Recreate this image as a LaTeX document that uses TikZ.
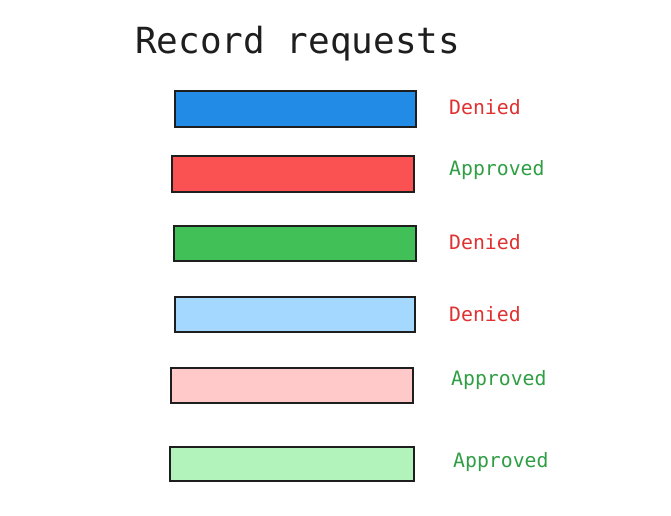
\documentclass[tikz,border=0pt]{standalone}
\usepackage{fontspec}
\setmainfont{DejaVu Sans Mono}
\definecolor{ink}{HTML}{1E1E1E}
\definecolor{redtxt}{HTML}{E03131}
\definecolor{greentxt}{HTML}{2F9E44}
\definecolor{cA}{HTML}{228BE6}
\definecolor{cB}{HTML}{FA5252}
\definecolor{cC}{HTML}{40C057}
\definecolor{cD}{HTML}{A5D8FF}
\definecolor{cE}{HTML}{FFC9C9}
\definecolor{cF}{HTML}{B2F2BB}
\begin{document}
\begin{tikzpicture}[x=1pt,y=-1pt,
  bar/.style={draw=ink,line width=1.1pt},
  lab/.style={anchor=west,font=\fontsize{19.8}{22}\selectfont,inner sep=0pt}]
\useasboundingbox (0,0) rectangle (671,515);
\node[anchor=west,inner sep=0pt,text=ink,font=\fontsize{36}{40}\selectfont] (title) at (135,44) {Record requests};
\path[bar,fill=cA] (175,91) rectangle (416,127);
\path[bar,fill=cB] (172,156) rectangle (414,192);
\path[bar,fill=cC] (174,226) rectangle (416,261);
\path[bar,fill=cD] (175,297) rectangle (415,332);
\path[bar,fill=cE] (171,368) rectangle (413,403);
\path[bar,fill=cF] (170,447) rectangle (414,481);
\node[lab,text=redtxt] (l1) at (449,107) {Denied};
\node[lab,text=greentxt] (l2) at (449,170) {Approved};
\node[lab,text=redtxt] (l3) at (449,242) {Denied};
\node[lab,text=redtxt] (l4) at (449,314) {Denied};
\node[lab,text=greentxt] (l5) at (451,380) {Approved};
\node[lab,text=greentxt] (l6) at (453,462) {Approved};
\end{tikzpicture}
\end{document}
